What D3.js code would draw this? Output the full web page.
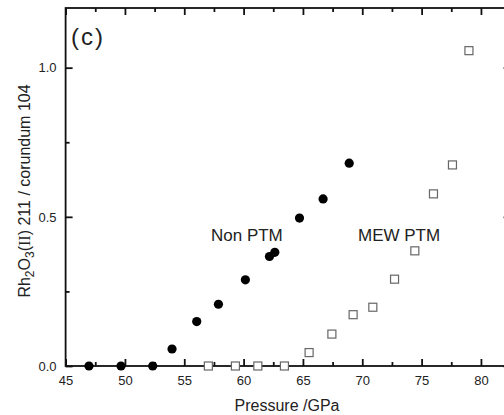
<!DOCTYPE html>
<html>
<head>
<meta charset="utf-8">
<script src="https://cdn.jsdelivr.net/npm/d3@7"></script>
<style>
  body { margin: 0; background: #fff; }
  svg { display: block; }
  .axis text { font-family: Arial, "Liberation Sans", sans-serif; font-size: 13px; fill: #222; }
</style>
</head>
<body>
<div id="chart"></div>
<script>
// data
var nonPtmP = [46.97, 49.67, 52.34, 53.97, 56.05, 57.88, 60.15, 62.18, 62.63, 64.71, 66.70, 68.90];
var nonPtmR = [0, 0, 0, 0.057, 0.149, 0.207, 0.289, 0.367, 0.381, 0.496, 0.560, 0.680];
var mewPtmP = [57.03, 59.31, 61.20, 63.44, 65.52, 67.44, 69.23, 70.89, 72.72, 74.43, 76.00, 77.60, 78.99];
var mewPtmR = [0, 0, 0, 0, 0.045, 0.107, 0.172, 0.197, 0.291, 0.386, 0.577, 0.674, 1.057];
var xTicks = [45, 50, 55, 60, 65, 70, 75, 80];
var xMinor = [47.5, 52.5, 57.5, 62.5, 67.5, 72.5, 77.5, 82.5];
var yTicks = [0, 0.5, 1.0];
var yMinor = [0.25, 0.75];

var margin = {top: 8, right: 0, bottom: 49, left: 65.6},
    width = 445,
    height = 358;

var svg = d3.select("#chart")
  .append("svg")
    .attr("width", 504)
    .attr("height", 415)
  .append("g")
    .attr("transform", "translate(" + margin.left + "," + margin.top + ")");

var x = d3.scaleLinear().domain([45, 82.5]).range([0, width]);
var y = d3.scaleLinear().domain([0, 1.2]).range([height, 0]);

function tidy(g) {
  g.select(".domain").remove();
  g.selectAll(".tick line").attr("stroke", "#111").attr("stroke-width", 1.8);
}

// bottom axis
svg.append("g").attr("class", "axis")
  .attr("transform", "translate(0," + height + ")")
  .call(d3.axisBottom(x).tickValues(xTicks).tickSize(-7).tickPadding(10).tickFormat(d3.format("d")))
  .call(tidy);
svg.append("g").attr("class", "axis")
  .attr("transform", "translate(0," + height + ")")
  .call(d3.axisBottom(x).tickValues(xMinor).tickSize(-4).tickFormat(""))
  .call(tidy);

// top axis
svg.append("g").attr("class", "axis")
  .call(d3.axisTop(x).tickValues(xTicks).tickSize(-7).tickFormat(""))
  .call(tidy);
svg.append("g").attr("class", "axis")
  .call(d3.axisTop(x).tickValues(xMinor).tickSize(-4).tickFormat(""))
  .call(tidy);

// left axis
svg.append("g").attr("class", "axis")
  .call(d3.axisLeft(y).tickValues(yTicks).tickSize(-7).tickPadding(9).tickFormat(d3.format(".1f")))
  .call(tidy);
svg.append("g").attr("class", "axis")
  .call(d3.axisLeft(y).tickValues(yMinor).tickSize(-4).tickFormat(""))
  .call(tidy);

// right axis
svg.append("g").attr("class", "axis")
  .attr("transform", "translate(" + width + ",0)")
  .call(d3.axisRight(y).tickValues(yTicks).tickSize(-7).tickFormat(""))
  .call(tidy);
svg.append("g").attr("class", "axis")
  .attr("transform", "translate(" + width + ",0)")
  .call(d3.axisRight(y).tickValues(yMinor).tickSize(-4).tickFormat(""))
  .call(tidy);

// frame
svg.append("rect")
  .attr("width", width)
  .attr("height", height)
  .attr("fill", "none")
  .attr("stroke", "#111")
  .attr("stroke-width", 1.8);

// MEW PTM squares
var sq = 8;
svg.selectAll(".mew")
  .data(mewPtmP)
  .enter().append("rect")
    .attr("class", "mew")
    .attr("x", function(d) { return x(d) - sq / 2; })
    .attr("y", function(d, i) { return y(mewPtmR[i]) - sq / 2; })
    .attr("width", sq)
    .attr("height", sq)
    .attr("fill", "#fff")
    .attr("stroke", "#666")
    .attr("stroke-width", 1.2);

// Non PTM dots
svg.selectAll(".non")
  .data(nonPtmP)
  .enter().append("circle")
    .attr("class", "non")
    .attr("cx", function(d) { return x(d); })
    .attr("cy", function(d, i) { return y(nonPtmR[i]); })
    .attr("r", 4.6)
    .attr("fill", "#000");

// labels
var font = "Arial, 'Liberation Sans', sans-serif";
svg.append("text")
  .attr("x", 211 - margin.left).attr("y", 241 - margin.top)
  .style("font-family", font).style("font-size", "17px").attr("fill", "#222")
  .text("Non PTM");
svg.append("text")
  .attr("x", 358 - margin.left).attr("y", 241 - margin.top)
  .style("font-family", font).style("font-size", "17px").attr("fill", "#222")
  .text("MEW PTM");
svg.append("text")
  .attr("x", 71 - margin.left).attr("y", 45 - margin.top)
  .style("font-family", font).style("font-size", "24px").style("letter-spacing", "2px").attr("fill", "#222")
  .text("(c)");

// x axis title
svg.append("text")
  .attr("text-anchor", "middle")
  .attr("x", 287 - margin.left).attr("y", 411 - margin.top)
  .style("font-family", font).style("font-size", "16px").attr("fill", "#222")
  .text("Pressure /GPa");

// y axis title
var yt = svg.append("text")
  .attr("text-anchor", "middle")
  .attr("transform", "translate(" + (30 - margin.left) + "," + (191 - margin.top) + ") rotate(-90)")
  .style("font-family", font).style("font-size", "16px").attr("fill", "#222");
yt.append("tspan").text("Rh");
yt.append("tspan").attr("dy", 4).style("font-size", "12px").text("2");
yt.append("tspan").attr("dy", -4).text("O");
yt.append("tspan").attr("dy", 4).style("font-size", "12px").text("3");
yt.append("tspan").attr("dy", -4).text("(");
yt.append("tspan").style("font-family", "'Liberation Serif', serif").text("II");
yt.append("tspan").text(") 211  /  corundum 104");
</script>
</body>
</html>
